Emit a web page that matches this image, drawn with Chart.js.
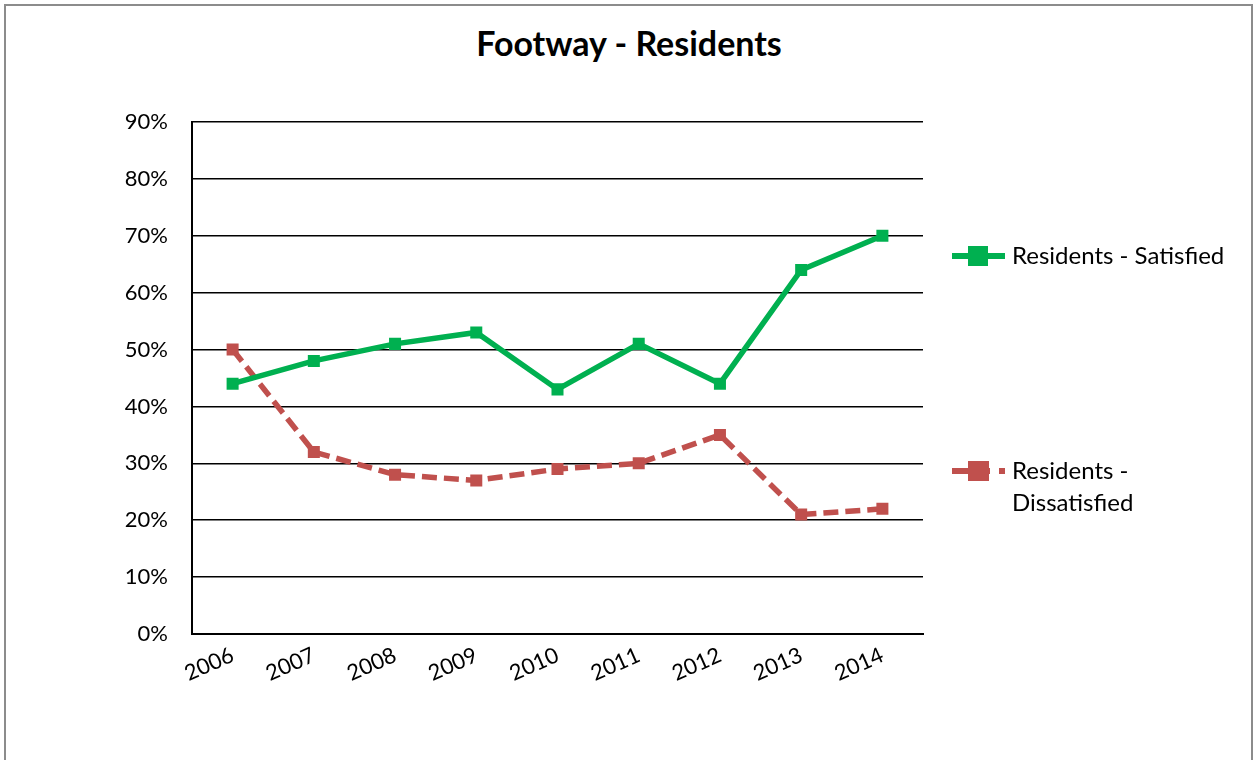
<!DOCTYPE html>
<html>
  <head>
    <meta charset="utf-8">
    <title>Footway - Residents</title>
    <script src="https://cdn.jsdelivr.net/npm/chart.js"></script>
    <style>
      body{
        margin:0;
        background:#fff;
        font-family:"Lato";
      }
      .frame{
        position:absolute;
        left:4px; top:4px;
        width:1245px; height:780px;
        border:2px solid #8c8c8c;
      }
      .title{
        position:absolute;
        left:0; width:1258px; top:22px;
        text-align:center;
        font-weight:bold; font-size:34px;
      }
      .legend-item{
        position:absolute;
        left:952px;
        font-size:24px;
      }
      .legend-item .txt{
        position:absolute;
        left:60px;
        white-space:nowrap;
        line-height:32px;
      }
      .bar, .sq{
        position:absolute;
      }
    </style>
  </head>
  <body>
    <div class="frame"></div>
    <div class="title">Footway - Residents</div>
    <div style="position:absolute;left:0;top:0;width:1258px;height:760px">
      <canvas id="chart" width="1258" height="760"></canvas>
    </div>

    <div class="legend-item" style="top:256px">
      <div class="bar" style="left:0;top:-3px;width:53px;height:6px;background:#00B050"></div>
      <div class="sq" style="left:16px;top:-10px;width:20px;height:20px;background:#00B050"></div>
      <div class="txt" style="top:-17px">Residents - Satisfied</div>
    </div>
    <div class="legend-item" style="top:471px">
      <div class="bar" style="left:0;top:-3px;width:38px;height:6px;background:#C0504D"></div>
      <div class="sq" style="left:16px;top:-10px;width:21px;height:20px;background:#C0504D"></div>
      <div class="bar" style="left:47px;top:-3px;width:6px;height:6px;background:#C0504D"></div>
      <div class="txt" style="top:-17px">Residents -<br>Dissatisfied</div>
    </div>

    <script>
        const years = ['2006', '2007', '2008', '2009', '2010', '2011', '2012', '2013', '2014'];
        const satisfied = [44, 48, 51, 53, 43, 51, 44, 64, 70];
        const dissatisfied = [50, 32, 28, 27, 29, 30, 35, 21, 22];
        const yTicks = [0, 10, 20, 30, 40, 50, 60, 70, 80, 90];

        const ctx = document.getElementById('chart');
        new Chart(ctx, {
            type: 'line',
            data: {
                labels: years,
                datasets: [{
                    label: 'Residents - Satisfied',
                    data: satisfied,
                    borderColor: '#00B050',
                    backgroundColor: '#00B050',
                    borderWidth: 5.5,
                    pointStyle: 'rect',
                    pointRadius: 8.5,
                    pointBorderWidth: 0,
                    tension: 0
                }, {
                    label: 'Residents - Dissatisfied',
                    data: dissatisfied,
                    borderColor: '#C0504D',
                    backgroundColor: '#C0504D',
                    borderWidth: 5.5,
                    borderDash: [15, 7],
                    pointStyle: 'rect',
                    pointRadius: 8.5,
                    pointBorderWidth: 0,
                    tension: 0
                }]
            },
            options: {
                responsive: false,
                animation: false,
                layout: { padding: { left: 0, right: 335, top: 122, bottom: 0 } },
                plugins: {
                    legend: { display: false },
                    title: { display: false },
                    tooltip: { enabled: false }
                },
                scales: {
                    x: {
                        offset: true,
                        grid: { display: false, drawTicks: false },
                        border: { color: '#000', width: 2 },
                        ticks: {
                            color: '#000',
                            font: { family: 'Lato', size: 22 },
                            maxRotation: 24,
                            minRotation: 24,
                            padding: 8
                        },
                        afterFit: s => { s.height = 126; }
                    },
                    y: {
                        min: 0,
                        max: 90,
                        afterBuildTicks: s => { s.ticks = yTicks.map(v => ({ value: v })); },
                        grid: { color: '#000', lineWidth: 1.5, drawTicks: false },
                        border: { color: '#000', width: 2 },
                        ticks: {
                            color: '#000',
                            font: { family: 'Lato', size: 22 },
                            padding: 24,
                            callback: v => v + '%'
                        },
                        afterFit: s => { s.width = 192; }
                    }
                }
            }
        });
    </script>
  </body>
</html>
